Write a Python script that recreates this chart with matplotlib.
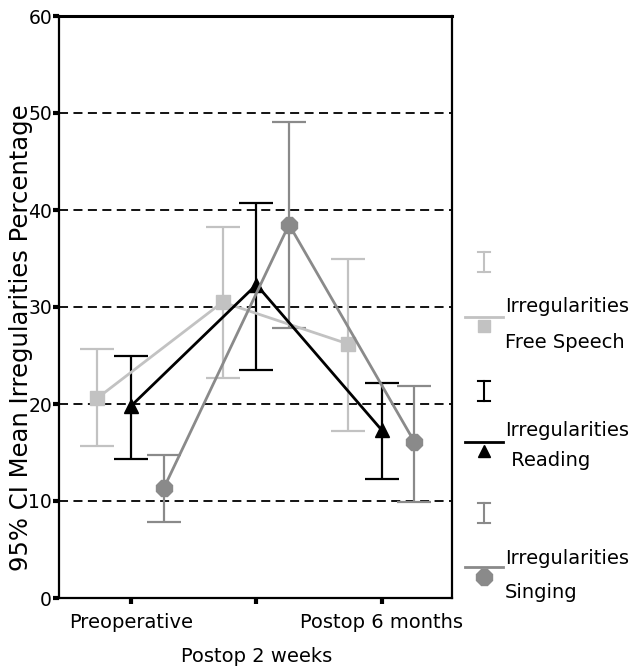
import matplotlib
matplotlib.use("Agg")
import matplotlib.pyplot as plt
import numpy as np

plt.rcParams['font.family'] = ['DejaVu Sans']

categories = ["Preoperative", "Postop 2 weeks", "Postop 6 months"]
series_names = ["Irregularities\nFree Speech", "Irregularities\n Reading", "Irregularities\nSinging"]
free_mean = [20.6, 30.5, 26.2]
free_lo = [15.7, 22.7, 17.2]
free_hi = [25.7, 38.2, 35.0]
read_mean = [19.8, 32.3, 17.3]
read_lo = [14.3, 23.5, 12.3]
read_hi = [25.0, 40.7, 22.2]
sing_mean = [11.3, 38.5, 16.1]
sing_lo = [7.8, 27.8, 9.9]
sing_hi = [14.7, 49.1, 21.9]
y_ticks = [0, 10, 20, 30, 40, 50, 60]

colors = ["#c2c2c2", "#000000", "#8a8a8a"]
markers = ["s", "^", "8"]
msizes = [10, 10, 13]
offsets = [-0.27, 0.0, 0.26]

fig = plt.figure(figsize=(6.3, 6.68), dpi=100)
ax = fig.add_axes([59/630, 70/668, 393/630, 582/668])

x = np.arange(len(categories))
data = [(free_mean, free_lo, free_hi), (read_mean, read_lo, read_hi), (sing_mean, sing_lo, sing_hi)]

for yv in [10, 20, 30, 40, 50]:
    ax.axhline(yv, color="black", linestyle=(0, (5, 3)), linewidth=1.3, zorder=1)

for i, (m, lo, hi) in enumerate(data):
    m = np.array(m); lo = np.array(lo); hi = np.array(hi)
    xs = x + offsets[i]
    ax.errorbar(xs, m, yerr=[m - lo, hi - m], fmt='none', ecolor=colors[i],
                elinewidth=1.6, capsize=12, capthick=1.6, zorder=3)
    ax.plot(xs, m, color=colors[i], linewidth=2, marker=markers[i],
            markersize=msizes[i], markerfacecolor=colors[i], markeredgecolor=colors[i], zorder=4)

ax.set_xlim(-0.575, 2.56)
ax.set_ylim(0, 60)
ax.set_yticks(y_ticks)
ax.set_yticklabels([str(t) for t in y_ticks], fontsize=13.5)
ax.set_xticks(x)
ax.set_xticklabels([categories[0], "\n" + categories[1], categories[2]], fontsize=14, linespacing=1.95)
ax.tick_params(axis='y', direction='out', length=4, width=3, pad=1)
ax.tick_params(axis='x', direction='out', length=4, width=3, pad=7)
for s in ax.spines.values():
    s.set_linewidth(1.6)
ax.spines['top'].set_linewidth(2.2)

ax.set_ylabel("95% CI Mean Irregularities Percentage", fontsize=17.5)
ax.yaxis.set_label_coords((33 - 59) / 393, (598 - 338) / 582)

# legend drawn in a separate overlay axes (pixel coordinates from top)
lax = fig.add_axes([0, 0, 1, 1], facecolor='none')
lax.set_xlim(0, 630)
lax.set_ylim(668, 0)
lax.axis('off')
leg_rows = [(262, 317, 326, 307, 342), (391, 442, 451, 430, 460), (513, 567, 577, 558, 593)]
for i, (ey, ly, my, t1, t2) in enumerate(leg_rows):
    lax.plot([484, 484], [ey - 10, ey + 10], color=colors[i], lw=1.5)
    lax.plot([478, 490], [ey - 10, ey - 10], color=colors[i], lw=1.5)
    lax.plot([478, 490], [ey + 10, ey + 10], color=colors[i], lw=1.5)
    lax.plot([465, 503], [ly, ly], color=colors[i], lw=2)
    lax.plot([484], [my], marker=markers[i], markersize=msizes[i] - 1, color=colors[i], linestyle='none')
    l1, l2 = series_names[i].split("\n")
    lax.text(505, t1, l1, fontsize=14, va='center', ha='left')
    lax.text(505, t2, l2, fontsize=14, va='center', ha='left')

fig.savefig("out.png", dpi=100)
